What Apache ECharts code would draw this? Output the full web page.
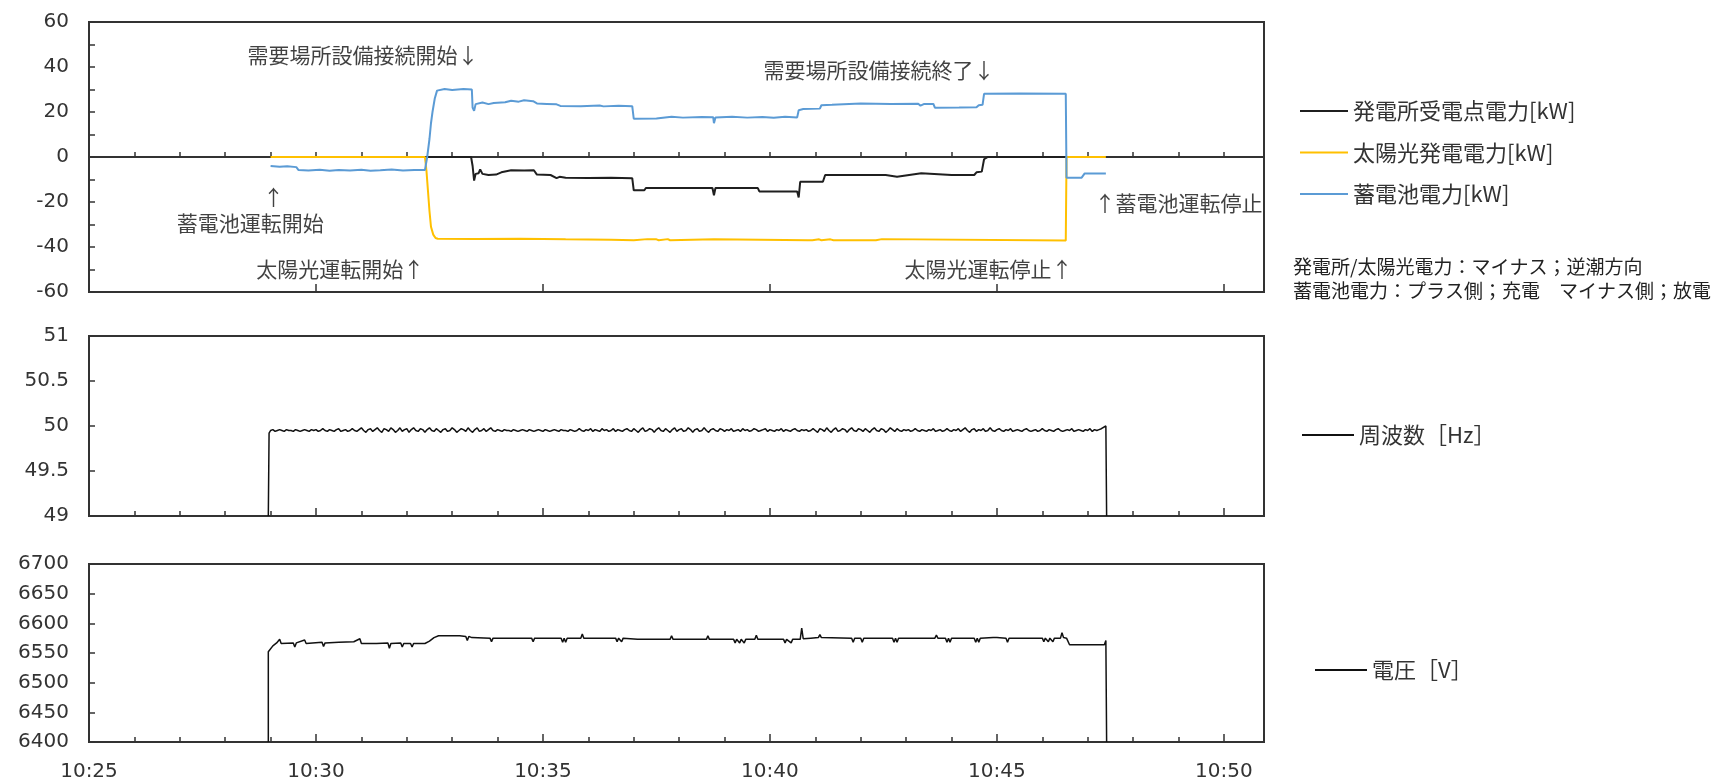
<!DOCTYPE html>
<html>
<head>
<meta charset="utf-8">
<script src="https://cdn.jsdelivr.net/npm/echarts@6/dist/echarts.min.js"></script>
<style>
html,body{margin:0;padding:0;background:#fff;}
#chart{width:1720px;height:781px;}
</style>
</head>
<body>
<div id="chart"></div>
<script>
// ---------- DATA ----------
const xMin = "10:25:00";
const xMax = "10:50:53";
const seriesNames = ["発電所受電点電力[kW]", "太陽光発電電力[kW]", "蓄電池電力[kW]"];
const freqName = "周波数［Hz］";
const voltName = "電圧［V］";

const gridPower = [
["10:29:00",0],["10:33:25",0],["10:33:27",-4],["10:33:29",-10.5],["10:33:31",-7.5],["10:33:35",-7.2],["10:33:37",-5.5],["10:33:40",-7.5],["10:33:48",-8.0],["10:33:58",-7.8],["10:34:05",-6.8],["10:34:18",-5.9],["10:34:35",-6.0],["10:34:48",-5.9],["10:34:52",-7.8],["10:35:10",-8.0],["10:35:18",-9.4],["10:35:22",-8.8],["10:35:30",-9.2],["10:36:00",-9.3],["10:36:30",-9.2],["10:36:58",-9.4],
["10:37:00",-14.8],["10:37:14",-14.8],["10:37:16",-13.8],["10:38:44",-13.8],["10:38:46",-17.0],["10:38:48",-13.8],["10:39:44",-13.8],["10:39:46",-15.3],["10:40:36",-15.3],["10:40:38",-18.0],["10:40:40",-11.0],["10:41:10",-11.0],["10:41:13",-8.0],["10:42:33",-8.0],["10:42:35",-8.8],["10:42:48",-8.8],["10:42:50",-8.0],["10:43:20",-7.2],["10:43:22",-8.0],["10:44:00",-8.0],["10:44:02",-7.2],["10:44:04",-8.0],["10:44:30",-8.0],["10:44:33",-6.8],["10:44:40",-6.5],["10:44:43",-1.0],["10:44:48",0],["10:47:24",0]
];

const solarPower = [
["10:29:00",0],["10:32:24",0],["10:32:26",-6],["10:32:28",-15],["10:32:30",-24],["10:32:32",-31],["10:32:35",-34.5],["10:32:38",-36.0],["10:32:41",-36.3],["10:33:30",-36.4],["10:34:30",-36.3],["10:35:30",-36.6],["10:36:30",-36.8],["10:37:00",-37.0],["10:37:18",-36.5],["10:37:20",-37.0],["10:37:30",-36.6],["10:37:33",-37.0],["10:37:45",-36.5],["10:37:48",-37.0],["10:38:46",-36.6],["10:38:48",-37.0],["10:40:50",-37.0],["10:40:52",-36.5],["10:40:56",-37.0],["10:41:05",-36.6],["10:41:08",-37.0],["10:41:20",-36.6],["10:41:24",-37.0],["10:42:20",-37.0],["10:42:22",-36.5],["10:42:28",-36.5],["10:42:30",-37.1],["10:46:31",-37.1],["10:46:32",0],["10:47:24",0]
];

const batteryPower = [
["10:29:00",-4.0],["10:29:12",-4.3],["10:29:22",-4.1],["10:29:34",-4.5],["10:29:37",-5.8],["10:29:50",-6.0],["10:30:05",-5.7],["10:30:18",-6.1],["10:30:30",-5.8],["10:30:45",-6.0],["10:31:00",-5.7],["10:31:12",-6.1],["10:31:25",-5.9],["10:31:40",-5.6],["10:31:55",-6.0],["10:32:10",-5.8],["10:32:24",-5.8],
["10:32:27",0],["10:32:30",8],["10:32:32",15],["10:32:34",20],["10:32:37",26],["10:32:40",29.5],["10:32:50",30.2],["10:33:00",29.8],["10:33:15",30.2],["10:33:26",30],
["10:33:27",22],["10:33:29",20.5],["10:33:31",23.5],["10:33:40",24.2],["10:33:48",23.5],["10:33:55",24],["10:34:10",24.3],["10:34:18",25],["10:34:28",24.6],["10:34:35",25.2],["10:34:47",24.8],["10:34:52",23.8],["10:35:05",23.6],["10:35:18",23.4],["10:35:23",22.7],["10:35:50",22.6],["10:36:15",22.9],["10:36:20",22.5],["10:36:40",22.8],["10:36:58",22.6],
["10:37:00",17.0],["10:37:30",17.1],["10:37:32",17.6],["10:37:50",17.9],["10:38:05",17.5],["10:38:30",17.8],["10:38:45",17.7],["10:38:46",15.0],["10:38:48",17.6],["10:39:10",17.9],["10:39:30",17.5],["10:39:50",17.8],["10:40:05",17.4],["10:40:20",17.9],["10:40:36",17.6],
["10:40:38",20.8],["10:40:44",21.3],["10:41:06",21.5],["10:41:08",23.0],["10:41:22",23.2],["10:41:24",23.7],["10:42:00",23.8],["10:42:40",23.6],["10:43:16",23.7],["10:43:19",22.8],["10:43:24",23.6],["10:43:36",23.6],["10:43:38",21.9],["10:44:10",22.0],["10:44:33",22.1],["10:44:36",23.0],["10:44:41",23.2],["10:44:43",28.1],["10:45:30",28.2],["10:46:31",28.1],
["10:46:32",-9.2],["10:46:52",-9.2],["10:46:56",-7.3],["10:47:24",-7.3]
];

// frequency: sampled every 3 s from 10:29:00
const freqStart = "10:29:00";
const freqStepSec = 3;
const frequency = [
49.95,49.96,49.94,49.95,49.96,49.95,49.94,49.96,49.95,49.95,49.94,49.96,49.95,49.94,49.95,49.96,49.95,49.94,49.96,49.95,
49.96,49.94,49.95,49.97,49.95,49.94,49.96,49.95,49.94,49.96,49.97,49.94,49.95,49.96,49.94,49.95,49.97,49.95,49.94,49.96,
49.98,49.95,49.93,49.96,49.97,49.94,49.96,49.98,49.95,49.93,49.97,49.96,49.94,49.98,49.96,49.93,49.95,49.98,49.94,49.96,
49.97,49.93,49.96,49.98,49.95,49.94,49.97,49.96,49.93,49.96,49.98,49.95,49.94,49.97,49.95,49.93,49.96,49.97,49.94,49.95,
49.98,49.96,49.93,49.95,49.97,49.96,49.94,49.98,49.95,49.93,49.96,49.98,49.94,49.95,49.97,49.94,49.96,49.98,49.95,49.94,
49.96,49.95,49.94,49.96,49.95,49.95,49.94,49.96,49.95,49.94,49.95,49.96,49.95,49.94,49.96,49.95,49.94,49.95,49.96,49.95,
49.94,49.96,49.95,49.94,49.95,49.96,49.95,49.94,49.96,49.95,49.95,49.94,49.96,49.95,49.94,49.95,49.97,49.95,49.94,49.96,
49.95,49.97,49.94,49.96,49.95,49.94,49.97,49.95,49.96,49.94,49.95,49.97,49.94,49.96,49.95,49.94,49.96,49.97,49.95,49.94,
49.97,49.95,49.93,49.96,49.98,49.94,49.95,49.97,49.96,49.93,49.96,49.98,49.95,49.94,49.97,49.95,49.93,49.96,49.98,49.94,
49.96,49.97,49.94,49.95,49.98,49.96,49.93,49.96,49.97,49.94,49.95,49.98,49.95,49.93,49.96,49.97,49.95,49.94,49.97,49.96,
49.94,49.96,49.95,49.97,49.94,49.95,49.96,49.94,49.97,49.95,49.96,49.94,49.95,49.97,49.96,49.94,49.95,49.96,49.97,49.94,
49.96,49.95,49.94,49.96,49.95,49.97,49.94,49.96,49.95,49.94,49.96,49.97,49.95,49.94,49.96,49.95,49.96,49.94,49.95,49.97,
49.95,49.93,49.97,49.96,49.94,49.98,49.95,49.93,49.96,49.98,49.94,49.95,49.97,49.96,49.93,49.96,49.98,49.95,49.94,49.97,
49.96,49.94,49.97,49.95,49.93,49.96,49.98,49.95,49.94,49.97,49.96,49.93,49.95,49.98,49.96,49.94,49.97,49.95,49.94,49.96,
49.95,49.96,49.94,49.95,49.97,49.95,49.94,49.96,49.95,49.94,49.96,49.95,49.97,49.94,49.95,49.96,49.94,49.95,49.97,49.95,
49.94,49.96,49.95,49.97,49.94,49.96,49.98,49.95,49.93,49.96,49.97,49.94,49.96,49.95,49.97,49.94,49.95,49.98,49.95,49.94,
49.96,49.97,49.95,49.94,49.96,49.95,49.97,49.94,49.95,49.96,49.95,49.94,49.96,49.97,49.95,49.94,49.95,49.96,49.94,49.95,
49.97,49.95,49.94,49.96,49.95,49.94,49.96,49.97,49.95,49.94,49.95,49.96,49.95,49.97,49.94,49.95,49.96,49.95,49.94,49.96,
49.95,49.97,49.94,49.96,49.95,49.96,49.97
];
const freqHead = [["10:28:57",49.0],["10:28:58",49.92]];
const freqTail = [["10:47:24",50.0],["10:47:25",49.0]];

const voltage = [
["10:28:57",6400],["10:28:57",6552],["10:29:03",6562],["10:29:08",6567],["10:29:12",6573],["10:29:14",6566],["10:29:30",6567],["10:29:32",6560],["10:29:34",6567],["10:29:45",6572],["10:29:47",6566],["10:30:08",6568],["10:30:10",6561],["10:30:12",6567],["10:30:30",6568],["10:30:50",6569],["10:30:58",6574],["10:31:00",6566],["10:31:20",6566],["10:31:35",6567],["10:31:37",6558],["10:31:39",6566],["10:31:52",6567],["10:31:54",6560],["10:31:56",6566],["10:32:05",6566],["10:32:07",6560],["10:32:09",6566],["10:32:24",6566],["10:32:30",6570],["10:32:36",6576],["10:32:42",6579],["10:33:10",6579],["10:33:18",6578],["10:33:20",6571],["10:33:22",6578],["10:33:26",6576],["10:33:50",6575],["10:33:52",6569],["10:33:54",6575],["10:34:45",6575],["10:34:47",6569],["10:34:49",6575],["10:35:24",6575],["10:35:26",6568],["10:35:28",6575],["10:35:30",6568],["10:35:32",6575],["10:35:50",6575],["10:35:52",6582],["10:35:54",6575],["10:36:36",6575],["10:36:38",6569],["10:36:40",6575],["10:36:44",6569],["10:36:46",6575],["10:37:05",6573],["10:37:48",6573],["10:37:50",6579],["10:37:52",6573],["10:38:36",6573],["10:38:38",6579],["10:38:40",6573],["10:39:12",6573],["10:39:14",6567],["10:39:16",6573],["10:39:20",6567],["10:39:22",6573],["10:39:26",6567],["10:39:28",6573],["10:39:40",6573],["10:39:42",6580],["10:39:44",6573],["10:40:18",6573],["10:40:20",6567],["10:40:22",6573],["10:40:28",6567],["10:40:30",6573],["10:40:40",6573],["10:40:42",6592],["10:40:44",6574],["10:40:54",6575],["10:41:04",6576],["10:41:06",6581],["10:41:08",6576],["10:41:48",6575],["10:41:50",6568],["10:41:52",6575],["10:42:00",6575],["10:42:02",6568],["10:42:04",6575],["10:42:42",6575],["10:42:44",6568],["10:42:46",6575],["10:42:48",6568],["10:42:50",6575],["10:43:38",6575],["10:43:40",6580],["10:43:42",6575],["10:43:52",6575],["10:43:54",6568],["10:43:56",6575],["10:43:58",6568],["10:44:00",6575],["10:44:30",6575],["10:44:32",6568],["10:44:34",6575],["10:44:36",6568],["10:44:38",6575],["10:44:55",6576],["10:44:57",6578],["10:45:00",6576],["10:45:12",6575],["10:45:14",6568],["10:45:16",6575],["10:46:00",6575],["10:46:02",6569],["10:46:04",6575],["10:46:08",6569],["10:46:10",6575],["10:46:14",6569],["10:46:16",6575],["10:46:24",6575],["10:46:26",6584],["10:46:28",6576],["10:46:32",6575],["10:46:36",6564],["10:47:22",6564],["10:47:24",6571],["10:47:25",6400]
];

const annotationTexts = ["需要場所設備接続開始↓","↑","蓄電池運転開始","太陽光運転開始↑","需要場所設備接続終了↓","↑蓄電池運転停止","太陽光運転停止↑"];
const annotationTimes = ["10:31:02","10:29:04","10:28:33","10:30:32","10:42:24","10:49:00","10:44:49"];
const annotationValues = [45.3,-17.8,-29.3,-49.8,38.7,-20.4,-49.8];

const noteLines = ["発電所/太陽光電力：マイナス；逆潮方向","蓄電池電力：プラス側；充電　マイナス側；放電"];

// ---------- BUILD ----------
function toMin(s){const p=s.split(':').map(Number);return p[0]*60+p[1]+(p[2]||0)/60;}
function pairs(arr){return arr.map(d=>[toMin(d[0]),d[1]]);}
const freqData = pairs(freqHead)
  .concat(frequency.map((v,i)=>[toMin(freqStart)+i*freqStepSec/60, v]))
  .concat(pairs(freqTail));
const annData = annotationTexts.map((t,i)=>[toMin(annotationTimes[i]), annotationValues[i], t]);

const X0 = toMin(xMin), X1 = toMin(xMax);
const AX = '#333';
const numFont = 'DejaVu Sans';
const jpFont = "'Noto Sans CJK JP'";

const grids = [
  {left:89, right:456, top:22, height:270},
  {left:89, right:456, top:336, height:180},
  {left:89, right:456, top:564, height:178}
].map(g=>Object.assign(g,{show:true,borderColor:AX,borderWidth:2,outerBoundsMode:'none',containLabel:false}));

function fmtTime(v){
  if (Math.abs(v/5-Math.round(v/5))>1e-6) return '';
  const h=Math.floor(v/60), m=Math.round(v-h*60);
  return h+':'+String(m).padStart(2,'0');
}
const xAxes=[];
for(let g=0;g<3;g++){
  xAxes.push({type:'value',gridIndex:g,position:'bottom',min:X0,max:X1,interval:1,
    axisLine:{show:true,lineStyle:{color:AX,width:2}},
    axisTick:{show:true,inside:true,length:5,lineStyle:{color:AX,width:1.5}},
    axisLabel:{show:g===2,formatter:fmtTime,margin:20,fontSize:20,fontFamily:numFont,color:'#333',showMaxLabel:false},
    splitLine:{show:false}});
  xAxes.push({type:'value',gridIndex:g,position:'bottom',min:X0,max:X1,interval:5,
    axisLine:{show:false},
    axisTick:{show:true,inside:true,length:8,lineStyle:{color:AX,width:1.5}},
    axisLabel:{show:false},splitLine:{show:false}});
}
const yCommon = {type:'value',
  axisLine:{show:true,lineStyle:{color:AX,width:2}},
  axisTick:{show:true,inside:true,length:6,lineStyle:{color:AX,width:1.5}},
  splitLine:{show:false}};
const yLabel = {margin:20,fontSize:20,fontFamily:numFont,color:'#333',formatter:v=>String(v)};
const yAxes=[
  Object.assign({},yCommon,{gridIndex:0,min:-60,max:60,interval:10,
    axisLabel:Object.assign({},yLabel,{formatter:v=>(Math.round(v)%20===0?String(v):'')})}),
  Object.assign({},yCommon,{gridIndex:1,min:49,max:51,interval:0.5,axisLabel:yLabel}),
  Object.assign({},yCommon,{gridIndex:2,min:6400,max:6700,interval:50,axisLabel:yLabel})
];

function lineSeries(name,data,color,width,xi,yi){
  return {name,type:'line',data,xAxisIndex:xi,yAxisIndex:yi,showSymbol:false,symbol:'none',
    lineStyle:{color,width},itemStyle:{color},silent:true};
}
const legendText = {fontFamily:jpFont,fontSize:22,color:'#333',lineHeight:22};
const legendCommon = {orient:'vertical',icon:'rect',itemHeight:2,selectedMode:false,textStyle:legendText,itemStyle:{borderWidth:0}};

const option = {
  animation:false,
  backgroundColor:'#fff',
  grid:grids,
  xAxis:xAxes,
  yAxis:yAxes,
  legend:[
    Object.assign({},legendCommon,{data:seriesNames,left:1295,top:95,itemWidth:48,itemGap:19.5}),
    Object.assign({},legendCommon,{data:[freqName],left:1297,top:419,itemWidth:52}),
    Object.assign({},legendCommon,{data:[voltName],left:1310,top:654,itemWidth:52})
  ],
  graphic:[
    {type:'text',left:1293,top:257,style:{text:noteLines[0],fontFamily:jpFont,fontSize:19,fill:'#222'}},
    {type:'text',left:1293,top:281,style:{text:noteLines[1],fontFamily:jpFont,fontSize:19,fill:'#222'}}
  ],
  series:[
    lineSeries(seriesNames[0],pairs(gridPower),'#1f1f1f',2,0,0),
    lineSeries(seriesNames[1],pairs(solarPower),'#FFC000',2,0,0),
    lineSeries(seriesNames[2],pairs(batteryPower),'#5B9BD5',2,0,0),
    {type:'scatter',xAxisIndex:0,yAxisIndex:0,data:annData,symbolSize:1,silent:true,
      itemStyle:{color:'rgba(0,0,0,0)'},
      label:{show:true,position:'inside',formatter:p=>p.data[2],fontFamily:jpFont,fontSize:21,color:'#111'}},
    lineSeries(freqName,freqData,'#111',1.5,2,1),
    lineSeries(voltName,pairs(voltage),'#111',1.5,4,2)
  ]
};
const chart = echarts.init(document.getElementById('chart'),null,{renderer:'canvas'});
chart.setOption(option);
</script>
</body>
</html>
